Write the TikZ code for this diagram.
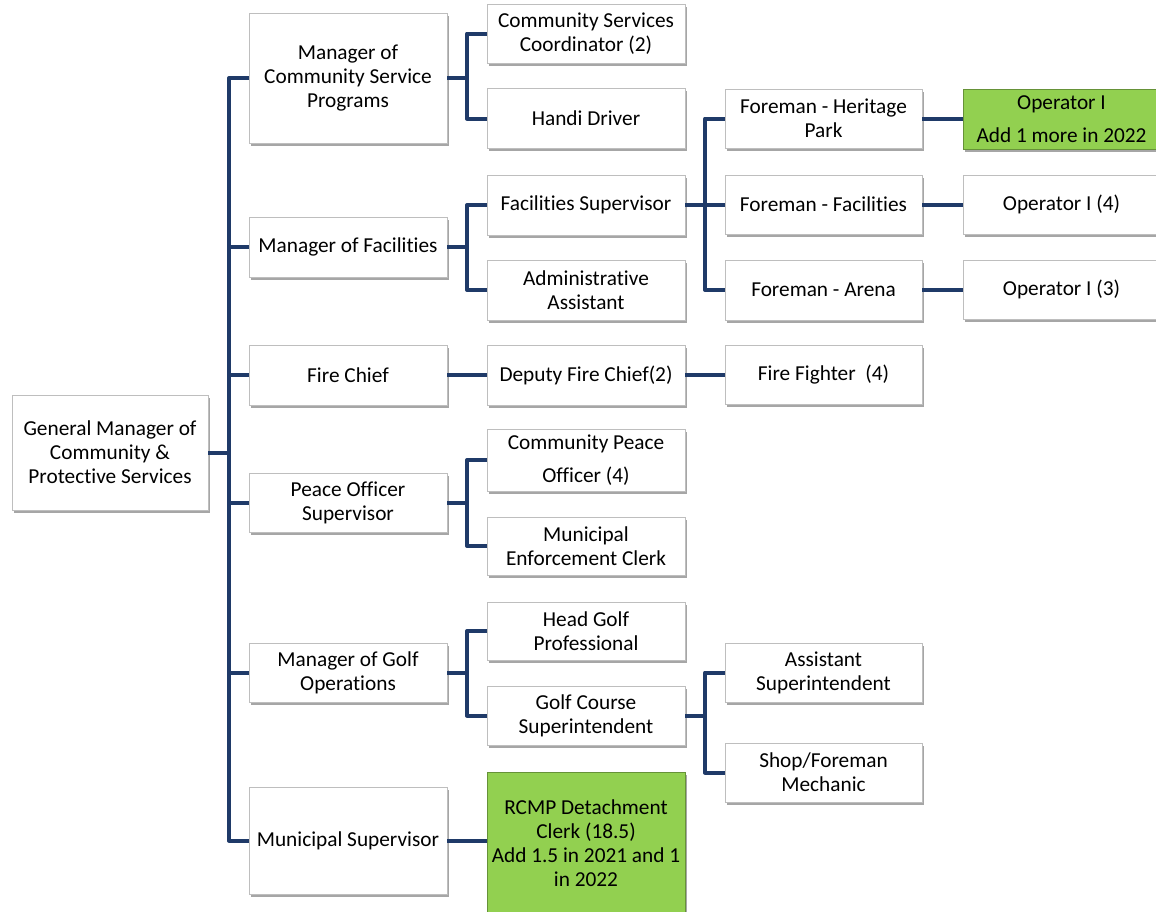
\documentclass[tikz,border=0pt]{standalone}
\usepackage{fontspec}
\setmainfont[Ligatures=NoCommon]{Carlito}
\usetikzlibrary{shadows}
\definecolor{navy}{RGB}{31,58,104}
\definecolor{boxline}{RGB}{190,190,190}
\definecolor{grn}{RGB}{146,208,80}
\begin{document}
\begin{tikzpicture}[x=1pt,y=-1pt,
  box/.style={draw=boxline, line width=0.8pt, fill=white, align=center, inner sep=2pt,
    font=\fontsize{21.3}{24}\selectfont,
    drop shadow={shadow xshift=2pt, shadow yshift=-2.5pt, fill=black, opacity=0.35}},
  gbox/.style={box, fill=grn, draw=grn!70!black},
  conn/.style={draw=navy, line width=4pt, line join=round}]
\useasboundingbox (0,0) rectangle (1156,911);
\fill[white] (0,0) rectangle (1156,911);
% root
\node[box, minimum width=196pt, minimum height=115pt] (gm) at (110,452.5) {General Manager of\\Community \&\\Protective Services};
% level 1
\node[box, minimum width=198pt, minimum height=130pt] (mcsp) at (348,78) {Manager of\\Community Service\\Programs};
\node[box, minimum width=198pt, minimum height=60pt] (mf) at (348,247) {Manager of Facilities};
\node[box, minimum width=198pt, minimum height=60pt] (fc) at (348,375) {Fire Chief};
\node[box, minimum width=198pt, minimum height=59pt] (pos) at (348,502.5) {Peace Officer\\Supervisor};
\node[box, minimum width=198pt, minimum height=59pt] (mgo) at (348,672.5) {Manager of Golf\\Operations};
\node[box, minimum width=198pt, minimum height=107pt] (ms) at (348,840.5) {Municipal Supervisor};
% level 2
\node[box, minimum width=198pt, minimum height=59pt] (csc) at (586,33.5) {Community Services\\Coordinator (2)};
\node[box, minimum width=198pt, minimum height=60pt] (hd) at (586,118.5) {Handi Driver};
\node[box, minimum width=198pt, minimum height=60pt] (fs) at (586,205) {Facilities Supervisor};
\node[box, minimum width=198pt, minimum height=60pt] (aa) at (586,290) {Administrative\\Assistant};
\node[box, minimum width=198pt, minimum height=60pt] (dfc) at (586,375) {Deputy Fire Chief(2)};
\node[box, minimum width=198pt, minimum height=62pt] (cpo) at (586,460) {Community Peace\\[9pt]Officer (4)};
\node[box, minimum width=198pt, minimum height=58pt] (mec) at (586,546) {Municipal\\Enforcement Clerk};
\node[box, minimum width=198pt, minimum height=58pt] (hgp) at (586,631) {Head Golf\\Professional};
\node[box, minimum width=198pt, minimum height=59pt] (gcs) at (586,715.5) {Golf Course\\Superintendent};
\node[gbox, minimum width=198pt, minimum height=142pt] (rcmp) at (586,843) {RCMP Detachment\\Clerk (18.5)\\Add 1.5 in 2021 and 1\\in 2022};
% level 3
\node[box, minimum width=197pt, minimum height=59pt] (fhp) at (823.5,118.5) {Foreman - Heritage\\Park};
\node[box, minimum width=197pt, minimum height=59pt] (ff) at (823.5,204.5) {Foreman - Facilities};
\node[box, minimum width=197pt, minimum height=60pt] (fa) at (823.5,290) {Foreman - Arena};
\node[box, minimum width=197pt, minimum height=59pt] (ff4) at (823.5,374.5) {Fire Fighter\ \ (4)};
\node[box, minimum width=197pt, minimum height=59pt] (as) at (823.5,672.5) {Assistant\\Superintendent};
\node[box, minimum width=197pt, minimum height=59pt] (sfm) at (823.5,772.5) {Shop/Foreman\\Mechanic};
% level 4
\node[gbox, minimum width=197pt, minimum height=60pt] (op1) at (1061.5,119) {Operator I\\[9pt]Add 1 more in 2022};
\node[box, minimum width=197pt, minimum height=59pt] (op4) at (1061.5,204.5) {Operator I (4)};
\node[box, minimum width=197pt, minimum height=59pt] (op3) at (1061.5,289.5) {Operator I (3)};
% bus x positions
\coordinate (xa) at (229,0);
\coordinate (xb) at (467,0);
\coordinate (xc) at (705,0);
\coordinate (b0) at (gm.east -| xa);
\coordinate (b1) at (mcsp.east -| xb);
\coordinate (b2) at (mf.east -| xb);
\coordinate (b3) at (fs.east -| xc);
\coordinate (b4) at (pos.east -| xb);
\coordinate (b5) at (mgo.east -| xb);
\coordinate (b6) at (gcs.east -| xc);
% connectors
\draw[conn] (gm.east) -- (b0);
\foreach \c in {mcsp,mf,fc,pos,mgo,ms} \draw[conn] (b0) |- (\c.west);
\draw[conn] (mcsp.east) -- (b1);
\foreach \c in {csc,hd} \draw[conn] (b1) |- (\c.west);
\draw[conn] (mf.east) -- (b2);
\foreach \c in {fs,aa} \draw[conn] (b2) |- (\c.west);
\draw[conn] (fs.east) -- (b3);
\foreach \c in {fhp,ff,fa} \draw[conn] (b3) |- (\c.west);
\draw[conn] (fhp.east) -- (fhp.east -| op1.west);
\draw[conn] (ff.east) -- (ff.east -| op4.west);
\draw[conn] (fa.east) -- (fa.east -| op3.west);
\draw[conn] (fc.east) -- (fc.east -| dfc.west);
\draw[conn] (dfc.east) -- (dfc.east -| ff4.west);
\draw[conn] (pos.east) -- (b4);
\foreach \c in {cpo,mec} \draw[conn] (b4) |- (\c.west);
\draw[conn] (mgo.east) -- (b5);
\foreach \c in {hgp,gcs} \draw[conn] (b5) |- (\c.west);
\draw[conn] (gcs.east) -- (b6);
\foreach \c in {as,sfm} \draw[conn] (b6) |- (\c.west);
\draw[conn] (ms.east) -- (ms.east -| rcmp.west);
\end{tikzpicture}
\end{document}
